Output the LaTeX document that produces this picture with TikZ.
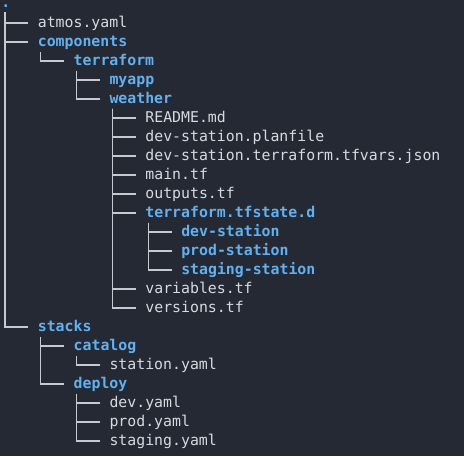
\documentclass[tikz,border=0pt]{standalone}
\usepackage{fontspec}
\setmonofont{DejaVu Sans Mono}
\definecolor{bgc}{HTML}{252933}
\definecolor{txt}{HTML}{D6DAE0}
\definecolor{lnc}{HTML}{C5C9D0}
\definecolor{dirc}{HTML}{62B0F0}
\begin{document}
\begin{tikzpicture}[x=1pt,y=-1pt,
  entry/.style={anchor=west,inner sep=0pt,outer sep=0pt,text height=12pt,text depth=3.6pt,
    font=\ttfamily\fontsize{14.85}{18}\selectfont,text=txt},
  dir/.style={entry,font=\ttfamily\bfseries\fontsize{14.85}{18}\selectfont,text=dirc},
  treeline/.style={draw=lnc,line width=1.4pt}]
\fill[bgc] (0,0) rectangle (464,456);
\useasboundingbox (0,0) rectangle (464,456);
\node[dir,anchor=base west,text height=3pt,text depth=0pt] (n0) at (1.5,7.5) {.};
\node[entry] (n1)  at (37.85,23)  {atmos.yaml};
\node[dir]   (n2)  at (37.85,42)  {components};
\node[dir]   (n3)  at (73.7,61)   {terraform};
\node[dir]   (n4)  at (109.55,80) {myapp};
\node[dir]   (n5)  at (109.55,99) {weather};
\node[entry] (n6)  at (145.4,118) {README.md};
\node[entry] (n7)  at (145.4,137) {dev-station.planfile};
\node[entry] (n8)  at (145.4,156) {dev-station.terraform.tfvars.json};
\node[entry] (n9)  at (145.4,175) {main.tf};
\node[entry] (n10) at (145.4,194) {outputs.tf};
\node[dir]   (n11) at (145.4,213) {terraform.tfstate.d};
\node[dir]   (n12) at (181.25,232) {dev-station};
\node[dir]   (n13) at (181.25,251) {prod-station};
\node[dir]   (n14) at (181.25,270) {staging-station};
\node[entry] (n15) at (145.4,289) {variables.tf};
\node[entry] (n16) at (145.4,308) {versions.tf};
\node[dir]   (n17) at (37.85,327) {stacks};
\node[dir]   (n18) at (73.7,346)  {catalog};
\node[entry] (n19) at (109.55,365) {station.yaml};
\node[dir]   (n20) at (73.7,384)  {deploy};
\node[entry] (n21) at (109.55,403) {dev.yaml};
\node[entry] (n22) at (109.55,422) {prod.yaml};
\node[entry] (n23) at (109.55,441) {staging.yaml};
\foreach \c in {n1,n2,n17}
  \draw[treeline] ([xshift=3.3pt,yshift=-6pt]n0.west) |- ([xshift=-9.55pt]\c.west);
\foreach \p/\c in {n2/n3,n3/n4,n3/n5,
  n5/n6,n5/n7,n5/n8,n5/n9,n5/n10,n5/n11,n5/n15,n5/n16,
  n11/n12,n11/n13,n11/n14,n17/n18,n17/n20,n18/n19,n20/n21,n20/n22,n20/n23}
  \draw[treeline] ([xshift=2.8pt,yshift=-9.5pt]\p.west) |- ([xshift=-9.55pt]\c.west);
\end{tikzpicture}
\end{document}
